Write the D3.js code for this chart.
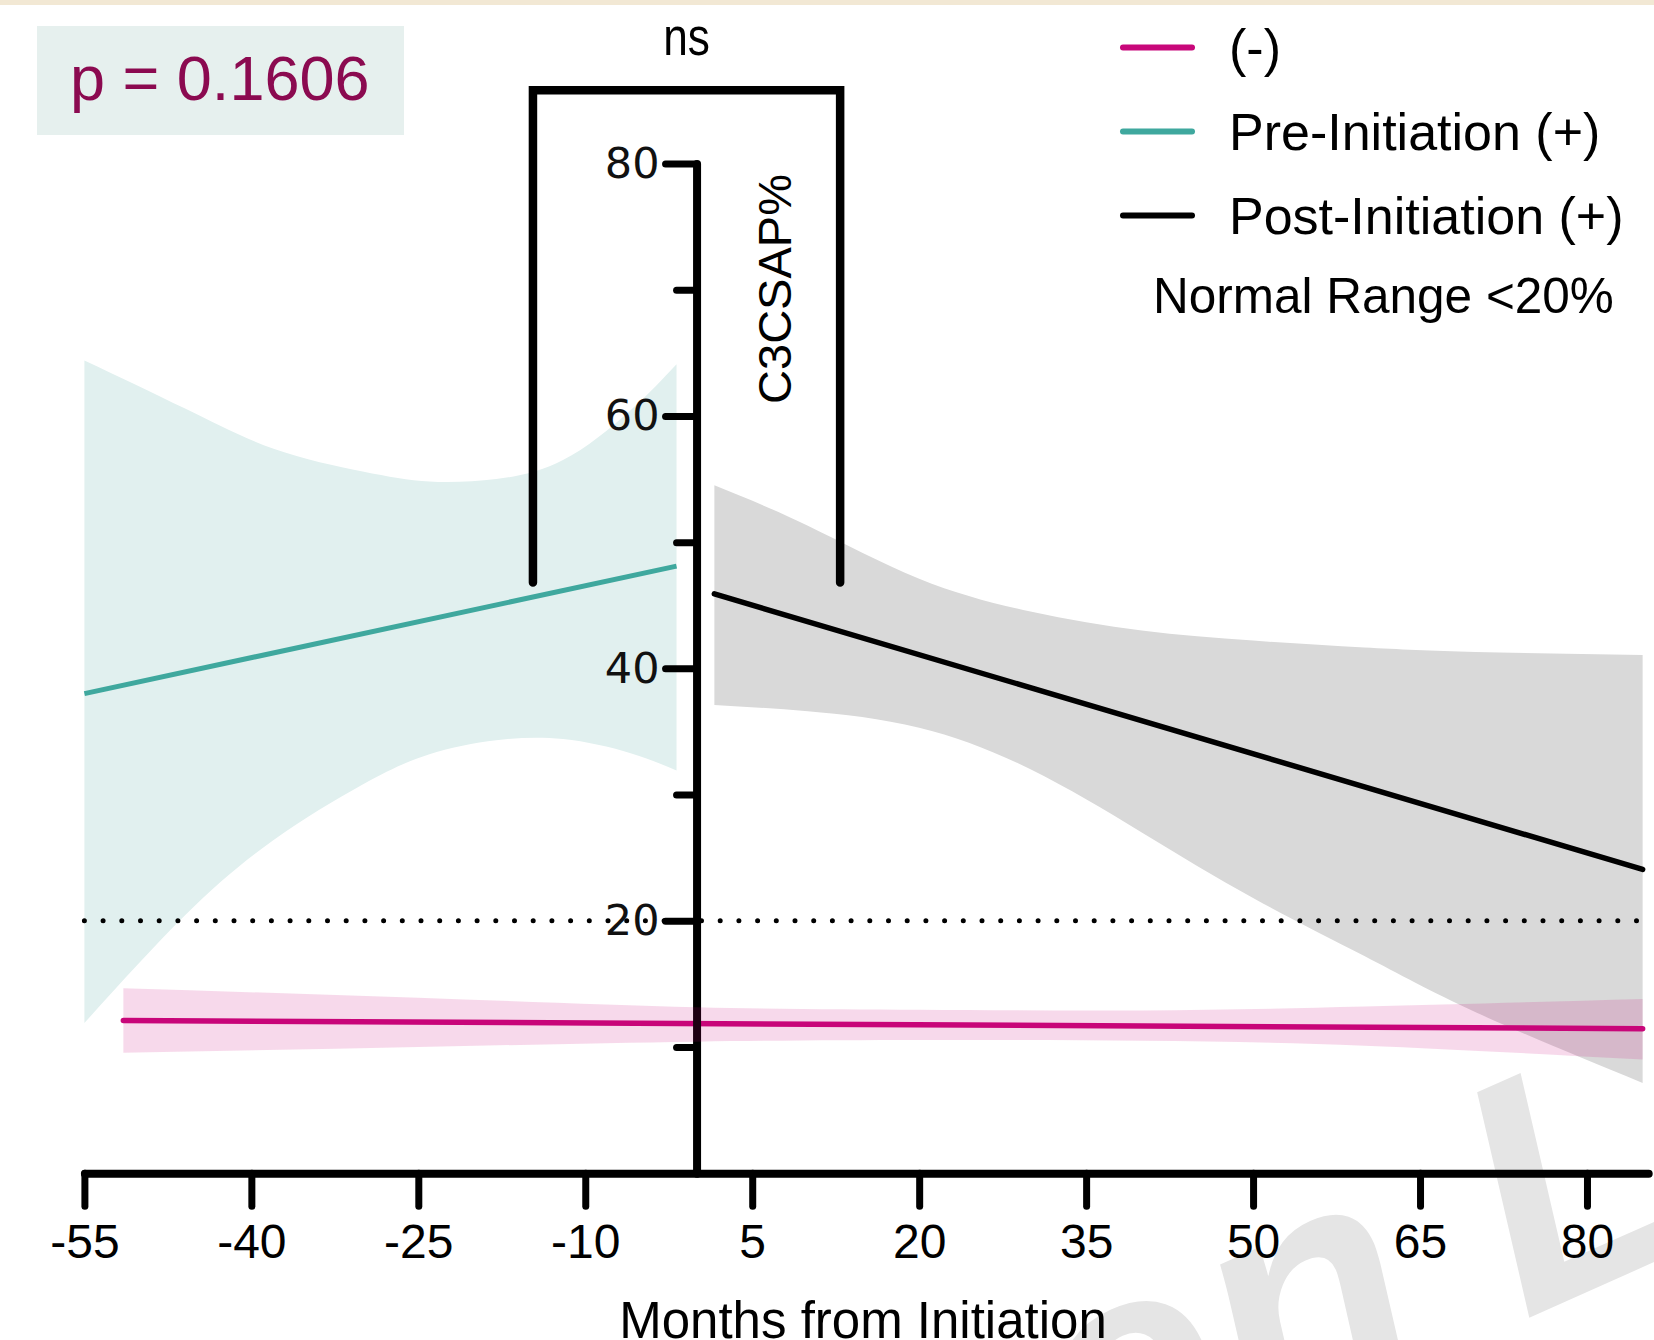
<!DOCTYPE html>
<html>
<head>
<meta charset="utf-8">
<script src="https://cdnjs.cloudflare.com/ajax/libs/d3/7.8.5/d3.min.js"></script>
<style>
  body { margin: 0; background: #fff; }
  text { font-family: "Liberation Sans", Arial, sans-serif; }
</style>
</head>
<body>
<div id="chart"></div>
<script>
// data
var xTicks = [-55, -40, -25, -10, 5, 20, 35, 50, 65, 80];
var yMajor = [20, 40, 60, 80];
var yMinor = [10, 30, 50, 70];
var normalRange = 20;

// (-) group
var negLineX = [-51.5, 85];
var negLineY = [12.1, 11.45];
var negBandX = [-51.5, -25, 0, 20, 40, 60, 85];
var negBandHi = [14.65, 13.9, 13.15, 12.95, 12.9, 13.2, 13.8];
var negBandLo = [9.55, 10.0, 10.42, 10.55, 10.5, 10.1, 9.0];

// Pre-Initiation (+)
var preLineX = [-55, -1.8];
var preLineY = [38.0, 48.1];
var preBandX = [-55, -46, -38, -30, -24, -18, -12, -6, -1.8];
var preBandHi = [64.4, 60.6, 57.4, 55.6, 54.8, 55.0, 56.5, 60.4, 64.1];
var preBandLo = [11.9, 20.4, 26.4, 30.8, 33.2, 34.3, 34.4, 33.3, 31.9];

// Post-Initiation (+)
var postLineX = [1.6, 85];
var postLineY = [45.9, 24.07];
var postBandX = [1.6, 10, 20, 30, 40, 50, 60, 70, 85];
var postBandHi = [54.5, 51.3, 47.1, 44.5, 43.0, 42.2, 41.65, 41.3, 41.05];
var postBandLo = [37.1, 36.6, 35.3, 32.0, 27.0, 21.8, 17.2, 12.75, 7.15];

// ns bracket (months, C3CSAP%)
var bracketX = [-14.7, 12.9];
var bracketY = [46.8, 85.8];

var legendLabels = ["(-)", "Pre-Initiation (+)", "Post-Initiation (+)"];
var legendColors = ["#c8077a", "#3fa89e", "#000000"];

var svgWidth = 1654;
var svgHeight = 1340;

var svg = d3.select("#chart")
  .append("svg")
  .attr("width", svgWidth)
  .attr("height", svgHeight);

var x = d3.scaleLinear().domain([-55, 85.5]).range([84.4, 1648.2]);
var y = d3.scaleLinear().domain([0, 80]).range([1173.2, 163.5]);

// beige strip at top
svg.append("rect")
  .attr("x", 0).attr("y", 0)
  .attr("width", svgWidth).attr("height", 5)
  .attr("fill", "#f2e8d4");

// watermark
var wm = svg.append("g")
  .attr("transform", "translate(1524,1320) rotate(-24)")
  .attr("fill", "#e5e5e5")
  .style("font-size", "330px")
  .style("font-weight", "bold")
  .style("font-style", "italic");
wm.append("text").attr("x", -92).attr("text-anchor", "end").text("Exagen");
wm.append("text").attr("x", 0).text("Labs");

function band(xs, lo, hi) {
  var pts = xs.map(function(d, i) { return { x: d, lo: lo[i], hi: hi[i] }; });
  return d3.area()
    .x(function(d) { return x(d.x); })
    .y0(function(d) { return y(d.lo); })
    .y1(function(d) { return y(d.hi); })
    .curve(d3.curveNatural)(pts);
}

function seg(xs, ys) {
  return d3.line()
    .x(function(d) { return x(d[0]); })
    .y(function(d) { return y(d[1]); })(d3.zip(xs, ys));
}

// confidence bands
svg.append("path").attr("d", band(preBandX, preBandLo, preBandHi)).attr("fill", "#e1f0ef");
svg.append("path").attr("d", band(postBandX, postBandLo, postBandHi)).attr("fill", "#d9d9d9");

// normal range dotted line
svg.append("line")
  .attr("x1", x(-55)).attr("x2", x(85))
  .attr("y1", y(normalRange)).attr("y2", y(normalRange))
  .attr("stroke", "#000")
  .attr("stroke-width", 5)
  .attr("stroke-linecap", "round")
  .attr("stroke-dasharray", "0,18.7");

// regression lines
svg.append("path").attr("d", seg(preLineX, preLineY))
  .attr("stroke", legendColors[1]).attr("stroke-width", 5).attr("fill", "none");
svg.append("path").attr("d", seg(postLineX, postLineY))
  .attr("stroke", legendColors[2]).attr("stroke-width", 5.5).attr("fill", "none")
  .attr("stroke-linecap", "round");
svg.append("path").attr("d", seg(negLineX, negLineY))
  .attr("stroke", legendColors[0]).attr("stroke-width", 5.5).attr("fill", "none")
  .attr("stroke-linecap", "round");

// x axis
var xAxis = svg.append("g")
  .attr("transform", `translate(0, ${y(0)})`)
  .call(d3.axisBottom(x).tickValues(xTicks).tickSize(33).tickSizeOuter(0).tickPadding(18)
    .tickFormat(function(d) { return String(d); }));
xAxis.select(".domain").attr("stroke-width", 8).attr("stroke-linecap", "round");
xAxis.selectAll(".tick line").attr("stroke-width", 7).attr("stroke-linecap", "round");
xAxis.selectAll(".tick text")
  .style("font-family", "Liberation Sans")
  .style("font-size", "48px")
  .attr("fill", "#000");

// y axis
var yAxis = svg.append("g")
  .attr("transform", `translate(${x(0)}, 0)`)
  .call(d3.axisLeft(y).tickValues(yMajor).tickSize(31).tickSizeOuter(0).tickPadding(6));
yAxis.select(".domain").attr("stroke-width", 8).attr("stroke-linecap", "round");
yAxis.selectAll(".tick line").attr("stroke-width", 7).attr("stroke-linecap", "round");
yAxis.selectAll(".tick text")
  .style("font-family", "DejaVu Sans")
  .style("font-size", "43px")
  .attr("fill", "#111");

var yMinorAxis = svg.append("g")
  .attr("transform", `translate(${x(0)}, 0)`)
  .call(d3.axisLeft(y).tickValues(yMinor).tickSize(20).tickSizeOuter(0).tickFormat(""));
yMinorAxis.select(".domain").remove();
yMinorAxis.selectAll(".tick line").attr("stroke-width", 7).attr("stroke-linecap", "round");

// (-) band sits over the axis, semi transparent
svg.append("path").attr("d", band(negBandX, negBandLo, negBandHi))
  .attr("fill", "#c8007a").attr("fill-opacity", 0.15);

// ns bracket
svg.append("path")
  .attr("d", `M${x(bracketX[0])},${y(bracketY[0])}V${y(bracketY[1])}H${x(bracketX[1])}V${y(bracketY[0])}`)
  .attr("fill", "none")
  .attr("stroke", "#000")
  .attr("stroke-width", 8.5)
  .attr("stroke-linecap", "round");

svg.append("g")
  .attr("transform", `translate(${x((bracketX[0] + bracketX[1]) / 2)}, 55) scale(0.82, 1)`)
  .append("text")
  .attr("text-anchor", "middle")
  .style("font-size", "54px")
  .text("ns");

// axis labels
svg.append("text")
  .attr("transform", "translate(791,289) rotate(-90)")
  .attr("text-anchor", "middle")
  .style("font-size", "47px")
  .text("C3CSAP%");

svg.append("text")
  .attr("x", 863)
  .attr("y", 1338)
  .attr("text-anchor", "middle")
  .style("font-size", "51px")
  .text("Months from Initiation");

// p value box
svg.append("rect")
  .attr("x", 37).attr("y", 26)
  .attr("width", 367).attr("height", 109)
  .attr("fill", "#e6f0ee");
svg.append("text")
  .attr("x", 70).attr("y", 100)
  .attr("fill", "#8b0a50")
  .style("font-size", "63px")
  .text("p = 0.1606");

// legend
var legend = svg.append("g");
legendLabels.forEach(function(lab, i) {
  var ly = 47.5 + i * 84;
  legend.append("line")
    .attr("x1", 1123).attr("x2", 1192)
    .attr("y1", ly).attr("y2", ly)
    .attr("stroke", legendColors[i])
    .attr("stroke-width", 6)
    .attr("stroke-linecap", "round");
  legend.append("text")
    .attr("x", 1229).attr("y", ly + 18.5)
    .style("font-size", "52px")
    .text(lab);
});
legend.append("text")
  .attr("x", 1153).attr("y", 313)
  .style("font-size", "49.5px")
  .text("Normal Range <20%");
</script>
</body>
</html>
